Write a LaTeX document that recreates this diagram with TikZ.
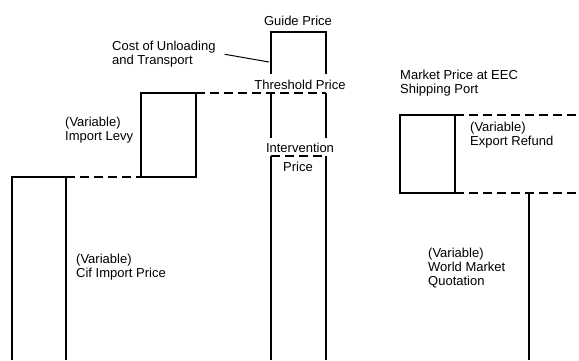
\documentclass[tikz,border=0pt]{standalone}
\usepackage{fontspec}
\setmainfont{Liberation Sans}
\usetikzlibrary{positioning}

\begin{document}
\begin{tikzpicture}[x=1pt,y=-1pt,
    bar/.style={line width=1.9pt},
    gap/.style={line width=1.6pt,dash pattern=on 9pt off 5pt},
    leader/.style={line width=1pt},
    lbl/.style={font=\fontsize{13}{14}\selectfont,inner sep=0pt,align=left,anchor=north west},
    tag/.style={font=\fontsize{13}{14}\selectfont,inner sep=0pt,anchor=base}]
    \useasboundingbox (0,0) rectangle (579,360);

    % import side
    \draw[bar] (12,360) -- (12,177) -- (66,177) -- (66,360);
    \draw[gap] (66,177) -- (141,177);
    \draw[bar] (141,93) rectangle (196,177);
    \draw[gap] (196,93) -- (326,93);

    % guide / threshold / intervention column
    \draw[bar] (271,74) -- (271,32) -- (326,32) -- (326,74);
    \draw[bar] (271,93) -- (271,138);
    \draw[bar] (326,93) -- (326,138);
    \draw[bar] (271,360) -- (271,156);
    \draw[bar] (326,156) -- (326,360);
    \draw[gap] (271,156) -- (326,156);

    % export side
    \draw[bar] (400,115) rectangle (455,193);
    \draw[gap] (455,115) -- (579,115);
    \draw[gap] (455,193) -- (579,193);
    \draw[bar] (529,193) -- (529,360);

    \node[tag] (guide) at (298,25) {Guide Price};
    \node[tag] (threshold) at (300,89) {Threshold Price};
    \node[tag] (intervention) at (300,152) {Intervention};
    \node[tag] (price) at (298,171) {Price};

    \node[lbl] (cost) at (112,41) {Cost of Unloading\\and Transport};
    \node[lbl] (levy) at (65,117) {(Variable)\\Import Levy};
    \node[lbl] (cif) at (76,254) {(Variable)\\Cif Import Price};
    \node[lbl] (market) at (400,70) {Market Price at EEC\\Shipping Port};
    \node[lbl] (refund) at (470,122) {(Variable)\\Export Refund};
    \node[lbl] (world) at (428,248) {(Variable)\\World Market\\Quotation};

    \coordinate (unload) at (269,62);
    \draw[leader] ([xshift=9pt]cost.east) -- (unload);
\end{tikzpicture}
\end{document}
